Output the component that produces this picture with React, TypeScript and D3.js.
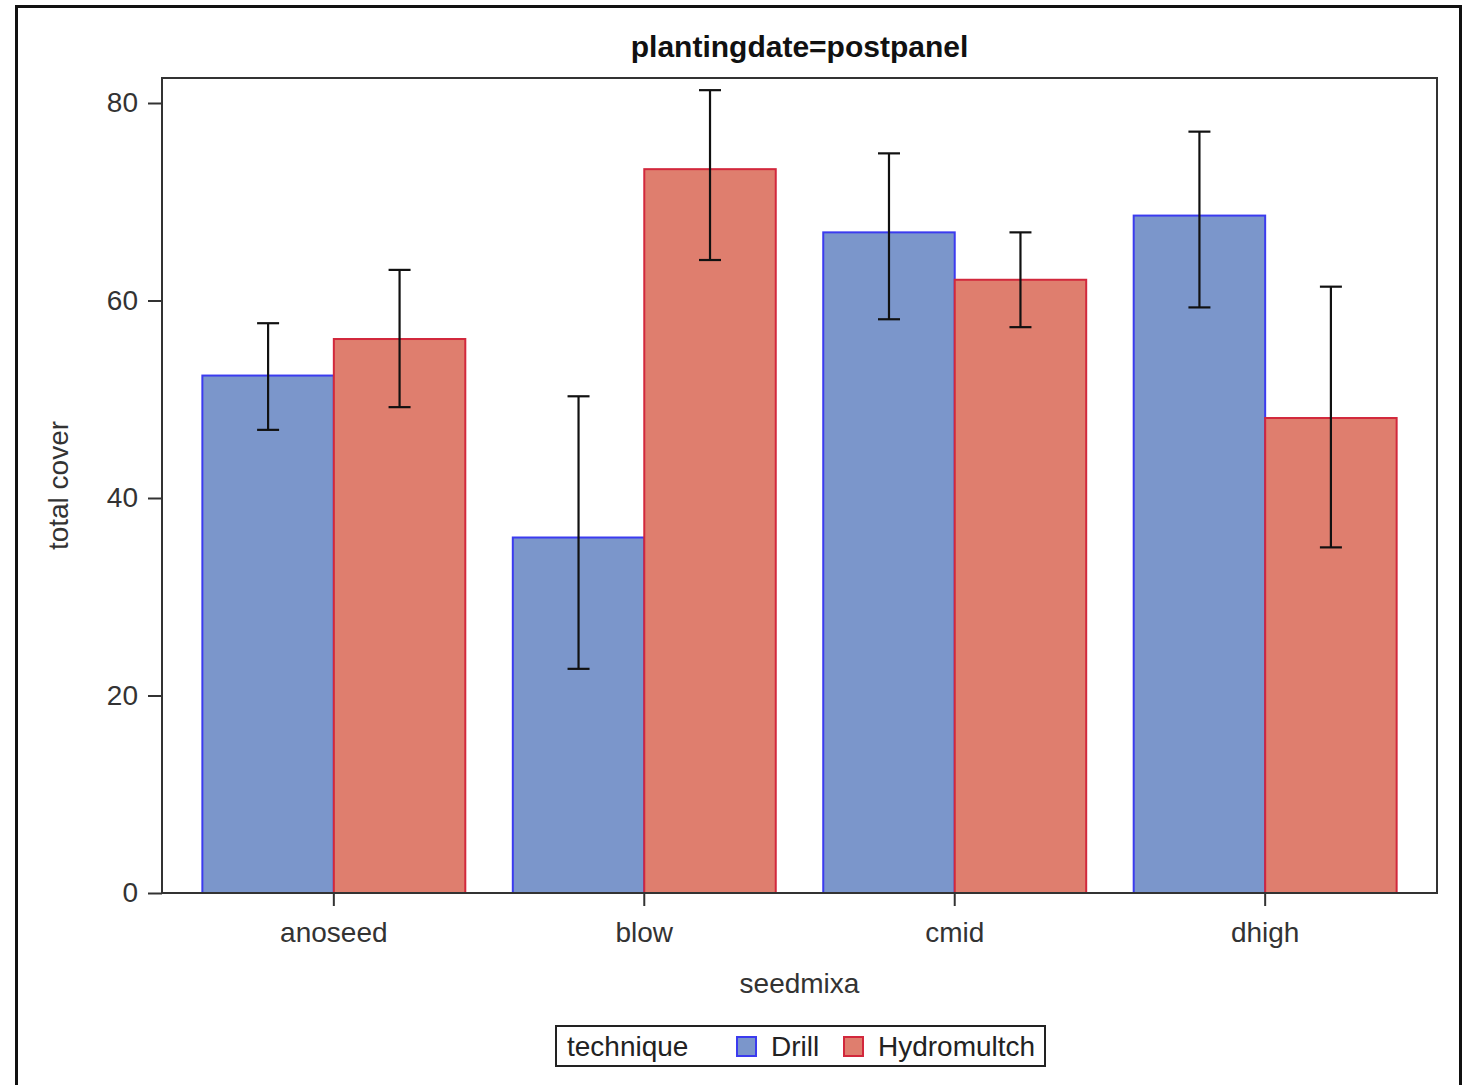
import React, { useEffect, useRef } from "react";
import * as d3 from "d3";

const seedmixes = ["anoseed", "blow", "cmid", "dhigh"];
const techniques = ["Drill", "Hydromultch"];
// mean total cover per seedmix
const drillMeans = [52.4, 36.0, 66.9, 68.6];
const hydroMeans = [56.1, 73.3, 62.1, 48.1];
// error bar limits
const drillLower = [46.9, 22.7, 58.1, 59.3];
const drillUpper = [57.7, 50.3, 74.9, 77.1];
const hydroLower = [49.2, 64.1, 57.3, 35.0];
const hydroUpper = [63.1, 81.3, 66.9, 61.4];
const yTicks = [0, 20, 40, 60, 80];

const fills = ["#7b96cb", "#df7e6e"];
const strokes = ["#3b3bef", "#d2283c"];

const App = () => {
  const ref = useRef<SVGSVGElement | null>(null);

  useEffect(() => {
    const width = 1470;
    const height = 1085;
    const left = 162, right = 1437, top = 78, bottom = 893;
    const font = "'Liberation Sans', Arial, sans-serif";
    const fs = 28;

    const svg = d3.select(ref.current);
    svg.selectAll("*").remove();
    svg.attr("width", width).attr("height", height);

    const rows = seedmixes.map((s, i) => ({
      seedmix: s,
      values: [
        { tech: 0, mean: drillMeans[i], lo: drillLower[i], hi: drillUpper[i] },
        { tech: 1, mean: hydroMeans[i], lo: hydroLower[i], hi: hydroUpper[i] },
      ],
    }));

    const x = d3
      .scaleBand()
      .domain(seedmixes)
      .range([left, right])
      .paddingInner(0.153)
      .paddingOuter(0.13);
    const xInner = d3
      .scaleBand()
      .domain(techniques.map((_, i) => String(i)))
      .range([0, x.bandwidth()]);
    const y = d3.scaleLinear().domain([0, 80]).range([bottom, 103]);

    // outer frame
    svg
      .append("rect")
      .attr("x", 16.5)
      .attr("y", 6.5)
      .attr("width", 1444)
      .attr("height", 1120)
      .attr("fill", "white")
      .attr("stroke", "#111")
      .attr("stroke-width", 3);

    // title
    svg
      .append("text")
      .attr("x", (left + right) / 2)
      .attr("y", 57)
      .attr("text-anchor", "middle")
      .attr("font-family", font)
      .attr("font-weight", "bold")
      .attr("font-size", 30)
      .attr("fill", "#111")
      .text("plantingdate=postpanel");

    // bars
    const groups = svg
      .append("g")
      .selectAll("g")
      .data(rows)
      .join("g")
      .attr("transform", (d) => `translate(${x(d.seedmix)},0)`);

    groups
      .selectAll("rect")
      .data((d) => d.values)
      .join("rect")
      .attr("x", (d) => xInner(String(d.tech))!)
      .attr("y", (d) => y(d.mean))
      .attr("width", xInner.bandwidth())
      .attr("height", (d) => bottom - y(d.mean))
      .attr("fill", (d) => fills[d.tech])
      .attr("stroke", (d) => strokes[d.tech])
      .attr("stroke-width", 2);

    // error bars
    const err = groups
      .selectAll("g.err")
      .data((d) => d.values)
      .join("g")
      .attr("class", "err")
      .attr("stroke", "#111")
      .attr("stroke-width", 2.2);
    const cx = (d: any) => xInner(String(d.tech))! + xInner.bandwidth() / 2;
    err
      .append("line")
      .attr("x1", cx)
      .attr("x2", cx)
      .attr("y1", (d) => y(d.lo))
      .attr("y2", (d) => y(d.hi));
    err
      .append("line")
      .attr("x1", (d) => cx(d) - 11)
      .attr("x2", (d) => cx(d) + 11)
      .attr("y1", (d) => y(d.hi))
      .attr("y2", (d) => y(d.hi));
    err
      .append("line")
      .attr("x1", (d) => cx(d) - 11)
      .attr("x2", (d) => cx(d) + 11)
      .attr("y1", (d) => y(d.lo))
      .attr("y2", (d) => y(d.lo));

    // plot box
    svg
      .append("rect")
      .attr("x", left)
      .attr("y", top)
      .attr("width", right - left)
      .attr("height", bottom - top)
      .attr("fill", "none")
      .attr("stroke", "#333")
      .attr("stroke-width", 2);

    // y axis
    const yAxis = svg
      .append("g")
      .attr("transform", `translate(${left},0)`)
      .call(
        d3
          .axisLeft(y)
          .tickValues(yTicks)
          .tickSize(14)
          .tickPadding(10)
          .tickFormat(d3.format("d"))
      );
    yAxis.select(".domain").remove();
    yAxis.selectAll("line").attr("stroke", "#333").attr("stroke-width", 2);
    yAxis
      .selectAll("text")
      .attr("font-family", font)
      .attr("font-size", fs)
      .attr("fill", "#333");

    // x axis
    const xAxis = svg
      .append("g")
      .attr("transform", `translate(0,${bottom})`)
      .call(d3.axisBottom(x).tickSize(13).tickPadding(16));
    xAxis.select(".domain").remove();
    xAxis.selectAll("line").attr("stroke", "#333").attr("stroke-width", 2);
    xAxis
      .selectAll("text")
      .attr("font-family", font)
      .attr("font-size", fs)
      .attr("fill", "#333");

    // axis titles
    svg
      .append("text")
      .attr("x", (left + right) / 2)
      .attr("y", 993)
      .attr("text-anchor", "middle")
      .attr("font-family", font)
      .attr("font-size", fs)
      .attr("fill", "#333")
      .text("seedmixa");
    svg
      .append("text")
      .attr("transform", `translate(68,${(top + bottom) / 2}) rotate(-90)`)
      .attr("text-anchor", "middle")
      .attr("font-family", font)
      .attr("font-size", fs)
      .attr("fill", "#333")
      .text("total cover");

    // legend
    const lg = svg.append("g").attr("transform", "translate(556,1026)");
    lg.append("rect")
      .attr("width", 489)
      .attr("height", 40)
      .attr("fill", "white")
      .attr("stroke", "#222")
      .attr("stroke-width", 2);
    lg.append("text")
      .attr("x", 11)
      .attr("y", 30)
      .attr("font-family", font)
      .attr("font-size", fs)
      .attr("fill", "#222")
      .text("technique");
    const swX = [181, 288];
    const labX = [215, 322];
    techniques.forEach((t, i) => {
      lg.append("rect")
        .attr("x", swX[i])
        .attr("y", 11)
        .attr("width", 19)
        .attr("height", 19)
        .attr("fill", fills[i])
        .attr("stroke", strokes[i])
        .attr("stroke-width", 2);
      lg.append("text")
        .attr("x", labX[i])
        .attr("y", 30)
        .attr("font-family", font)
        .attr("font-size", fs)
        .attr("fill", "#222")
        .text(t);
    });
  }, []);

  return (
    <svg
      ref={ref}
      style={{ position: "absolute", left: 0, top: 0, display: "block" }}
    />
  );
};

export default App;
